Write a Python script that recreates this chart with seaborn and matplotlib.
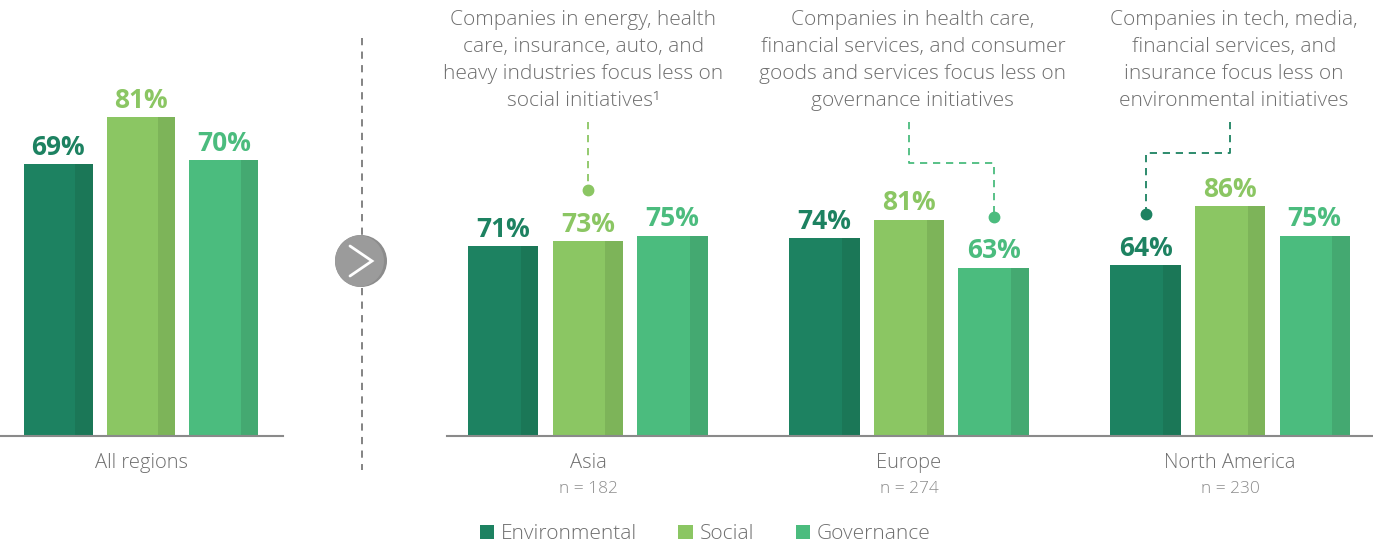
import numpy as np
import pandas as pd
import matplotlib
matplotlib.use("Agg")
import matplotlib.pyplot as plt
from matplotlib.patches import Rectangle, Circle, Patch
import seaborn as sns

# ---------------- data ----------------
pillars = ["Environmental", "Social", "Governance"]
all_regions_values = [69, 81, 70]
regions = ["Asia", "Europe", "North America"]
region_n = ["n = 182", "n = 274", "n = 230"]
environmental = [71, 74, 64]
social = [73, 81, 86]
governance = [75, 63, 75]
annotations = [
    "Companies in energy, health\ncare, insurance, auto, and\nheavy industries focus less on\nsocial initiatives\u00b9",
    "Companies in health care,\nfinancial services, and consumer\ngoods and services focus less on\ngovernance initiatives",
    "Companies in tech, media,\nfinancial services, and\ninsurance focus less on\nenvironmental initiatives",
]
# which pillar each annotation points at (index in pillars)
annotation_targets = [1, 2, 0]

main_colors = ["#1d8261", "#8bc663", "#4bbc7e"]
dark_colors = ["#1b7757", "#7db459", "#44a971"]
grey_text = "#6e6e6e"
axis_grey = "#8a8a8a"

sns.set_style("white")
plt.rcParams["font.family"] = ["Open Sans", "DejaVu Sans"]

W, H = 1373, 547
fig = plt.figure(figsize=(W / 100, H / 100), dpi=100)

def fx(px):
    return px / W

def fy(py):
    return 1 - py / H

base_px = 436
ax_h = base_px / H
ax_left = fig.add_axes([0, fy(base_px), fx(283), ax_h])
ax_right = fig.add_axes([fx(447), fy(base_px), fx(W - 447), ax_h])

df_all = pd.DataFrame({"region": ["All regions"] * 3, "pillar": pillars, "value": all_regions_values})
df_reg = pd.DataFrame({
    "region": np.repeat(regions, 3),
    "pillar": pillars * 3,
    "value": [v for trio in zip(environmental, social, governance) for v in trio],
})

def draw(ax, df, ylim_top, xlim):
    sns.barplot(data=df, x="region", y="value", hue="pillar", hue_order=pillars,
                palette=main_colors, width=0.79, gap=0.17, saturation=1,
                legend=False, ax=ax, errorbar=None, linewidth=0)
    ax.set_ylim(0, ylim_top)
    ax.set_xlim(*xlim)
    # darker right strip + labels
    for ci, cont in enumerate(ax.containers):
        for bar in cont:
            x, w, h = bar.get_x(), bar.get_width(), bar.get_height()
            ax.add_patch(Rectangle((x + 0.75 * w, 0), 0.25 * w, h, linewidth=0,
                                   facecolor=dark_colors[ci], edgecolor="none", zorder=bar.get_zorder()))
        ax.bar_label(cont, labels=[f"{v:.0f}%" for v in cont.datavalues], padding=2.5,
                     color=main_colors[ci], fontsize=19, fontweight="bold")
    for s in ["left", "right", "top"]:
        ax.spines[s].set_visible(False)
    ax.spines["bottom"].set_color(axis_grey)
    ax.spines["bottom"].set_linewidth(1.5)
    ax.set_yticks([])
    ax.set_xlabel("")
    ax.set_ylabel("")
    ax.tick_params(axis="x", length=0, pad=12.5, labelsize=14.5, labelcolor=grey_text)
    for lab in ax.get_xticklabels():
        lab.set_fontweight("light")
    ax.patch.set_alpha(0)

draw(ax_left, df_all, 110.7, (-0.449, 0.452))
draw(ax_right, df_reg, 163.3, (-0.439, 2.445))

# sample sizes
for i, n in enumerate(region_n):
    ax_right.text(i, -53 / base_px, n, transform=ax_right.get_xaxis_transform(),
                  ha="center", va="center", fontsize=12.5, color="#8c8c8c", fontweight="light")

# annotations with connectors
vals_by_pillar = [environmental, social, governance]
conn_mid = [None, 102.2, 106.0]
for i, (txt, tgt) in enumerate(zip(annotations, annotation_targets)):
    bar = ax_right.containers[tgt][i]
    bx = bar.get_x() + bar.get_width() / 2
    dot_y = vals_by_pillar[tgt][i] + 19
    top_y = 117.5
    gx = i  # group center
    if conn_mid[i] is None:
        xs, ys = [bx, bx], [top_y, dot_y]
        tx = bx - 0.015
    else:
        xs, ys = [gx, gx, bx, bx], [top_y, conn_mid[i], conn_mid[i], dot_y]
        tx = gx + 0.012
    col = main_colors[tgt]
    ax_right.plot(xs, ys, color=col, lw=1.3, ls=(0, (4, 3.2)), clip_on=False)
    ax_right.plot([bx], [dot_y], marker="o", ms=7.5, color=col, clip_on=False)
    ax_right.text(tx, 159.4, txt, ha="center", va="top", fontsize=15, color=grey_text,
                  linespacing=1.45, fontweight="light")

# overlay for separator + arrow circle
ov = fig.add_axes([0, 0, 1, 1], zorder=5)
ov.set_xlim(0, W)
ov.set_ylim(H, 0)
ov.axis("off")
ov.plot([362, 362], [38, 235], color="#7a7a7a", lw=1.3, ls=(0, (4, 3.5)))
ov.plot([362, 362], [288, 470], color="#7a7a7a", lw=1.3, ls=(0, (4, 3.5)))
dark_c = Circle((361, 261), 26, facecolor="#8c8c8c", edgecolor="none")
ov.add_patch(dark_c)
light_c = Circle((358, 261), 26, facecolor="#9b9b9b", edgecolor="none")
ov.add_patch(light_c)
light_c.set_clip_path(dark_c)
ov.plot([350, 372, 350], [246, 261, 276], color="white", lw=2, solid_joinstyle="miter")

# legend
handles = [Patch(facecolor=c, edgecolor="none", label=p) for c, p in zip(main_colors, pillars)]
leg = fig.legend(handles=handles, loc="center", bbox_to_anchor=(fx(705), fy(534)), ncol=3,
                 frameon=False, fontsize=15, handlelength=0.68, handleheight=0.68,
                 handletextpad=0.33, columnspacing=2.0, borderaxespad=0)
for t in leg.get_texts():
    t.set_color(grey_text)
    t.set_fontweight("light")

fig.savefig("out.png", dpi=100)
